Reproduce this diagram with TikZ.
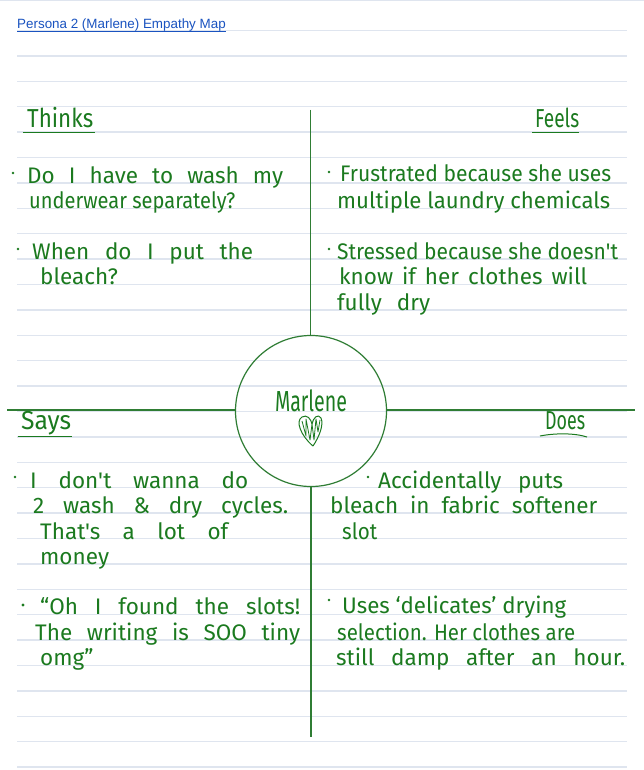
\documentclass[tikz,border=0pt]{standalone}
\usepackage{fontspec}
\usepackage{graphicx}
\setmainfont{Liberation Sans}
\newfontfamily\hand{Fira Sans}
\definecolor{ruled}{HTML}{DFE5EF}
\definecolor{ink}{HTML}{1B7A1F}
\definecolor{frame}{HTML}{2F7D34}
\definecolor{link}{HTML}{1A53C0}

% one handwritten line set to a given width: spaces stretch, or the line is squeezed
\newcommand\fitline[2]{\sbox0{#2}\ifdim\wd0>#1\relax\resizebox{#1}{\height}{#2}\else\makebox[#1][s]{#2}\fi}

\tikzset{
  paperline/.style={draw=ruled, line width=1.3pt},
  quadline/.style={draw=frame, line width=1.2pt},
  hw/.style={anchor=base west, inner sep=0pt, text=ink, font=\hand\fontsize{22.5}{24}\selectfont},
  heading/.style={anchor=base west, inner sep=0pt, text=ink, font=\hand\fontsize{26}{28}\selectfont},
  headrule/.style={draw=ink, line width=1pt},
  bullet/.style={circle, fill=ink, inner sep=0pt, minimum size=2.6pt},
}

\begin{document}
\begin{tikzpicture}[x=1pt, y=-1pt]
\useasboundingbox (0,0) rectangle (644,770);
\fill[white] (0,0) rectangle (644,770);

% ruled paper
\draw[paperline] (0,0.6) -- (644,0.6);
\foreach \k in {0,...,29}
  \draw[paperline] (17,{30.5+25.4*\k}) -- (627,{30.5+25.4*\k});

% title link
\node[anchor=base west, inner sep=0pt, text=link, font=\fontsize{13.4}{15}\selectfont] (title) at (17,29) {Persona 2 (Marlene) Empathy Map};
\draw[draw=link, line width=0.9pt] (title.south west |- 0,31.2) -- (title.south east |- 0,31.2);

% central circle and quadrant lines
\node[circle, draw=frame, line width=1.2pt, minimum size=151pt, inner sep=0pt] (hub) at (311,411) {};
\coordinate (topend) at (310.5,110);
\coordinate (botend) at (310.5,737);
\coordinate (leftend) at (7,410);
\coordinate (rightend) at (635,410);
\draw[quadline] (topend) -- (topend |- hub.north);
\draw[quadline] (hub.south) -- (hub.south |- botend);
\draw[quadline] (leftend) -- (leftend -| hub.west);
\draw[quadline] (hub.east) -- (hub.east |- rightend) -- (rightend);

\node[anchor=base, inner sep=0pt, text=ink, font=\hand\fontsize{29}{31}\selectfont] (name) at (311,411.5) {\resizebox{72pt}{\height}{Marlene}};
% heart doodle
\draw[ink, line width=1pt, line join=round]
  (313,446) .. controls (301,436) and (295,421) .. (302,417)
  .. controls (307,414) and (311,419) .. (312,424)
  .. controls (313,418) and (318,413) .. (321,418)
  .. controls (324,425) and (319,437) .. (313,446);
\draw[ink, line width=0.8pt, line join=round]
  (302,421) -- (306,436) -- (306,419) -- (310,440) -- (312,424) -- (314,440) -- (316,419) -- (318,432) -- (320,420);

% Thinks
\node[heading] (thinks) at (27,128) {\resizebox{66pt}{\height}{Thinks}};
\draw[headrule] (23,132.5) -- (95,132.5);
\node[bullet] (b1) at (13,173) {};
\node[hw] (t1) at (27,183) {\fitline{256pt}{Do I have to wash my}};
\node[hw] (t2) at (29,208.5) {\fitline{206pt}{underwear separately?}};
\node[bullet] (b2) at (18,249) {};
\node[hw] (t3) at (32,259) {\fitline{221pt}{When do I put the}};
\node[hw] (t4) at (40,284) {\fitline{78pt}{bleach?}};

% Feels
\node[heading] (feels) at (535,128) {\resizebox{44pt}{\height}{Feels}};
\draw[headrule] (532,132.3) -- (579,132.3);
\node[bullet] (b3) at (329,172) {};
\node[hw] (f1) at (340,182) {\fitline{271pt}{Frustrated because she uses}};
\node[hw] (f2) at (337,208) {\fitline{273pt}{multiple laundry chemicals}};
\node[bullet] (b4) at (329,249) {};
\node[hw] (f3) at (337,259) {\fitline{281pt}{Stressed because she doesn't}};
\node[hw] (f4) at (339,284.5) {\fitline{248pt}{know if her clothes will}};
\node[hw] (f5) at (337,310) {\fitline{93pt}{fully dry}};

% Says
\node[heading] (says) at (21,429) {\resizebox{50pt}{\height}{Says}};
\draw[headrule] (18,436.7) -- (72,436.7);
\node[bullet] (b5) at (15,477) {};
\node[hw] (s1) at (30,488) {\fitline{218pt}{I don't wanna do}};
\node[hw] (s2) at (33,513) {\fitline{255pt}{2 wash \& dry cycles.}};
\node[hw] (s3) at (40,539) {\fitline{188pt}{That's a lot of}};
\node[hw] (s4) at (40,564) {\fitline{70pt}{money}};
\node[bullet, minimum size=3.4pt] (b6) at (23,605) {};
\node[hw] (s5) at (40,614) {\fitline{260pt}{“Oh I found the slots!}};
\node[hw] (s6) at (35,640) {\fitline{265pt}{The writing is SOO tiny}};
\node[hw] (s7) at (40,665) {\fitline{60pt}{omg”}};

% Does
\node[heading] (does) at (545,429) {\resizebox{40pt}{\height}{Does}};
\draw[headrule] (540,436) .. controls (555,433) and (575,433) .. (587,437);
\node[bullet] (b7) at (368,477) {};
\node[hw] (d1) at (378,488) {\fitline{185pt}{Accidentally puts}};
\node[hw] (d2) at (330,513) {\fitline{267pt}{bleach in fabric softener}};
\node[hw] (d3) at (342,539) {\fitline{35pt}{slot}};
\node[bullet] (b8) at (329,600) {};
\node[hw] (d4) at (342,613) {\fitline{224pt}{Uses ‘delicates’ drying}};
\node[hw] (d5) at (337,640) {\fitline{238pt}{selection. Her clothes are}};
\node[hw] (d6) at (336,665) {\fitline{289pt}{still damp after an hour.}};
\end{tikzpicture}
\end{document}
